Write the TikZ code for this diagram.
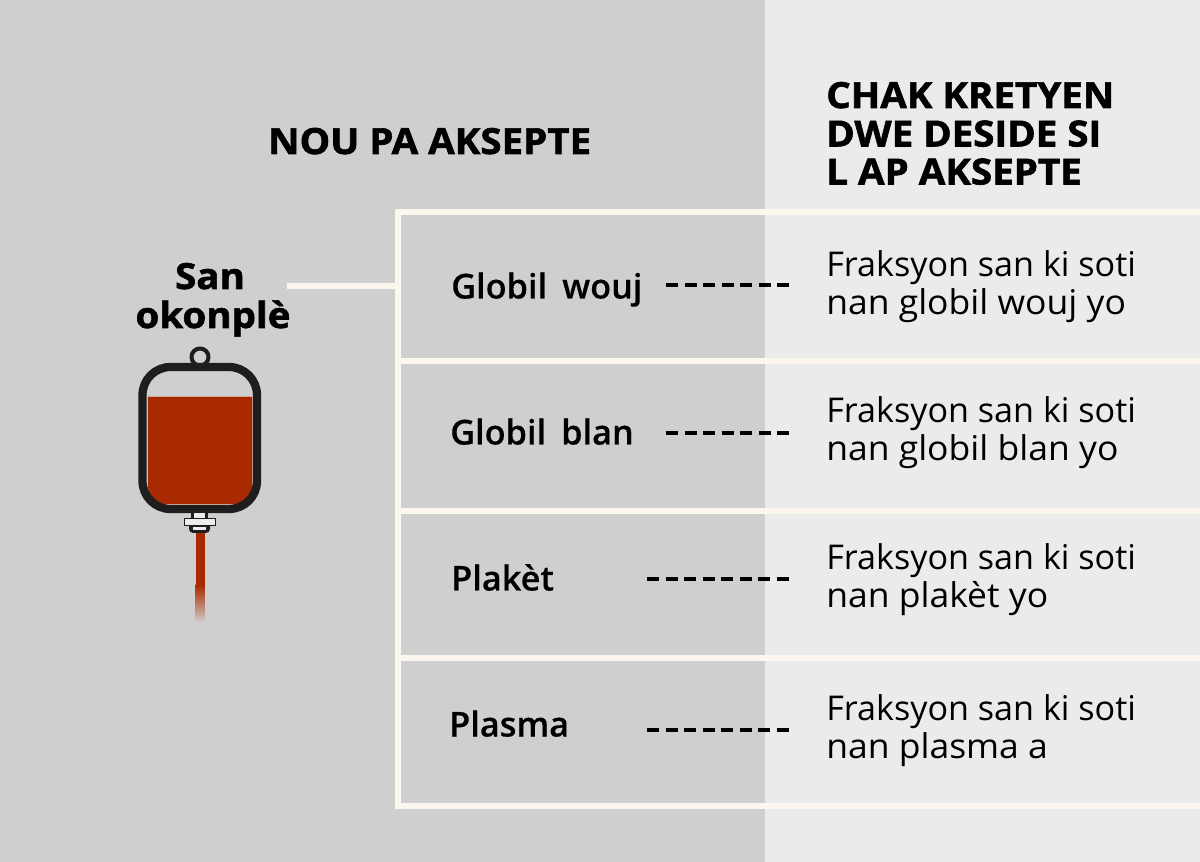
\documentclass[tikz,border=0pt]{standalone}
\usepackage{fontspec}
\setmainfont{Open Sans}
\newfontfamily\heavy[FakeBold=1.6,FakeStretch=1.07]{Open Sans Bold}
\newfontfamily\semi[FakeBold=0.3,WordSpace=1.7]{Open Sans Semibold}
\newfontfamily\wide[FakeStretch=1.04]{Open Sans}
\definecolor{bgleft}{HTML}{CFCFCF}
\definecolor{bgright}{HTML}{EBEBEB}
\definecolor{frameline}{HTML}{FBF6EE}
\definecolor{blood}{HTML}{A92A00}
\definecolor{bagdark}{HTML}{1E1E1E}
\tikzset{
  titletext/.style={anchor=base west,inner sep=0pt,font=\heavy\fontsize{27}{27}\selectfont},
  sanlabel/.style={anchor=base,inner sep=0pt,font=\heavy\fontsize{27}{27}\selectfont},
  rowlabel/.style={anchor=base west,inner sep=0pt,font=\semi\fontsize{25.7}{26}\selectfont},
  fractext/.style={anchor=base west,inner sep=0pt,font=\fontsize{25.6}{26}\selectfont},
  fracwide/.style={anchor=base west,inner sep=0pt,font=\wide\fontsize{25.6}{26}\selectfont},
  framerule/.style={draw=frameline,line width=4.5pt},
  dashrule/.style={draw=black,line width=3pt,dash pattern=on 9pt off 4.875pt},
}
\begin{document}
\begin{tikzpicture}[x=0.75pt,y=-0.75pt]
\useasboundingbox (0,0) rectangle (1200,862);
\fill[bgleft] (0,0) rectangle (765,862);
\fill[bgright] (765,0) rectangle (1200,862);
% frame
\coordinate (ftl) at (398,212.5);
\coordinate (ftr) at (1200,212.5);
\coordinate (fbl) at (398,806);
\coordinate (fbr) at (1200,806);
\coordinate (r1l) at (398,361);
\coordinate (r1r) at (1200,361);
\coordinate (r2l) at (398,511);
\coordinate (r2r) at (1200,511);
\coordinate (r3l) at (398,658);
\coordinate (r3r) at (1200,658);
\draw[framerule] (ftr) -- (ftl) -- (fbl) -- (fbr);
\draw[framerule] (r1l) -- (r1r);
\draw[framerule] (r2l) -- (r2r);
\draw[framerule] (r3l) -- (r3r);
% titles
\node[titletext] (tleft) at (268,154) {NOU PA AKSEPTE};
\node[titletext] (tr1) at (826,108) {CHAK KRETYEN};
\node[titletext] (tr2) at (826,146.5) {DWE DESIDE SI};
\node[titletext] (tr3) at (826,184.5) {L AP AKSEPTE};
% whole blood
\node[sanlabel] (san1) at (210,289) {San};
\node[sanlabel] (san2) at (213,328) {okonplè};
\coordinate (sanout) at (287,286);
\coordinate (sanin) at (396,286);
\draw[framerule] (sanout) -- (sanin);
% bag
\draw[bagdark,line width=3pt] (200,357) circle (8.5);
\fill[frameline!70!blood] (147.2,396.5) {[rounded corners=14pt] -- (147.2,505) -- (252.8,505)} -- (252.8,396.5) -- cycle;
\fill[blood] (148,397) {[rounded corners=13.5pt] -- (148,504) -- (252,504)} -- (252,397) -- cycle;
\draw[bagdark,line width=6.2pt,rounded corners=21pt] (142.5,367) rectangle (257,509);
\fill[bagdark] (191,513) rectangle (208,520);
\fill[bgleft!40!white] (194,513.5) rectangle (205,518);
\fill[bagdark,rounded corners=3pt] (189,522) rectangle (210,533);
\fill[bgleft!40!white] (193,527) rectangle (206,530);
\draw[bagdark,line width=1.4pt,fill=bgleft!40!white] (184.5,518.5) rectangle (215.5,525.5);
\fill[blood] (195.5,533) rectangle (204.5,585);
\shade[top color=blood,bottom color=bgleft] (195.5,585) rectangle (204.5,623);
% rows
\node[rowlabel] (a1) at (451,298.5) {Globil wouj};
\node[rowlabel] (a2) at (450,444.5) {Globil blan};
\node[rowlabel] (a3) at (451,590.5) {Plakèt};
\node[rowlabel] (a4) at (449,736.5) {Plasma};
\coordinate (d1a) at (666,285); \coordinate (d1b) at (789,285);
\coordinate (d2a) at (666,433); \coordinate (d2b) at (789,433);
\coordinate (d3a) at (647,579); \coordinate (d3b) at (789,579);
\coordinate (d4a) at (647,730); \coordinate (d4b) at (789,730);
\draw[dashrule] (d1a) -- (d1b);
\draw[dashrule] (d2a) -- (d2b);
\draw[dashrule] (d3a) -- (d3b);
\draw[dashrule] (d4a) -- (d4b);
\node[fractext] (b1a) at (826,277) {Fraksyon san ki soti};
\node[fracwide] (b1b) at (826,315) {nan globil wouj yo};
\node[fractext] (b2a) at (826,423) {Fraksyon san ki soti};
\node[fracwide] (b2b) at (826,461) {nan globil blan yo};
\node[fractext] (b3a) at (826,570) {Fraksyon san ki soti};
\node[fracwide] (b3b) at (826,608) {nan plakèt yo};
\node[fractext] (b4a) at (826,720) {Fraksyon san ki soti};
\node[fracwide] (b4b) at (826,758) {nan plasma a};
\end{tikzpicture}
\end{document}
